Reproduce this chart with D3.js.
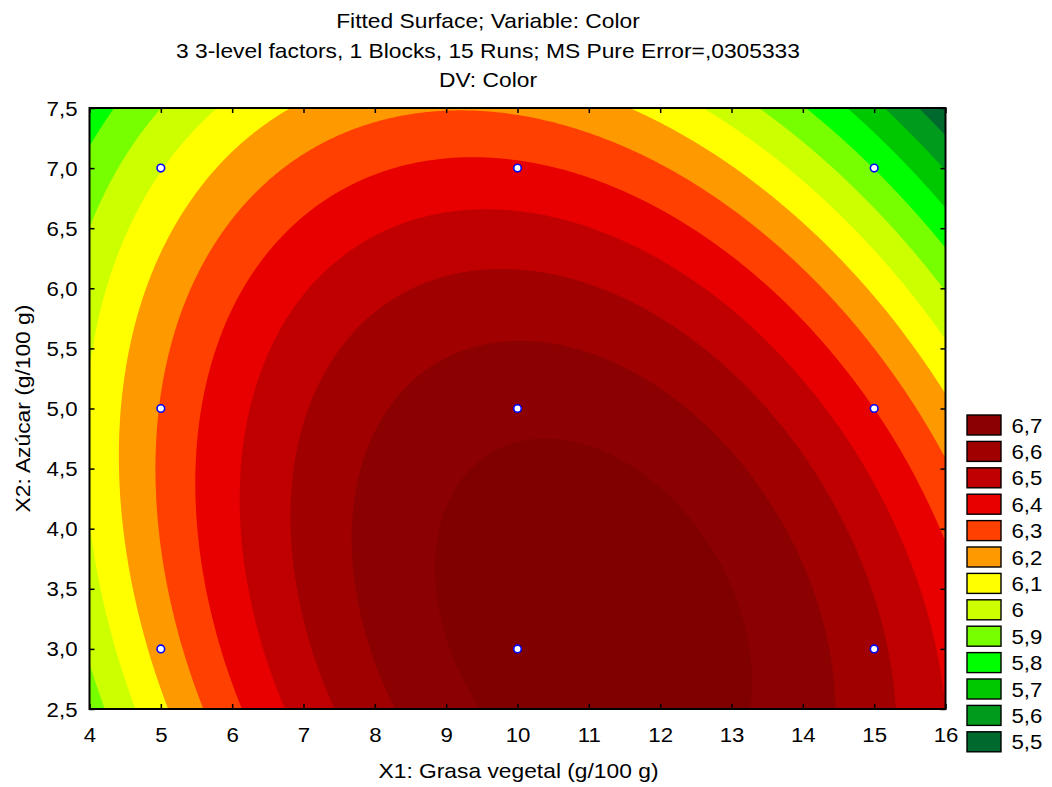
<!DOCTYPE html>
<html>
<head>
<meta charset="utf-8">
<script src="https://cdn.jsdelivr.net/npm/d3@7"></script>
<style>
  html, body { margin: 0; padding: 0; background: #fff; }
  svg text { font-family: "Liberation Sans", Arial, sans-serif; fill: #000; }
</style>
</head>
<body>
<svg id="chart" width="1052" height="787"></svg>
<script>
// ── Data ──────────────────────────────────────────────────────────────────────
const titleLines = [
  'Fitted Surface; Variable: Color',
  '3 3-level factors, 1 Blocks, 15 Runs; MS Pure Error=,0305333',
  'DV: Color'
];
const xLabel  = 'X1: Grasa vegetal (g/100 g)';
const yLabel  = 'X2: Azúcar (g/100 g)';
const xDomain = [4, 16];
const yDomain = [2.5, 7.5];
const xTicks  = [4, 5, 6, 7, 8, 9, 10, 11, 12, 13, 14, 15, 16];
const yTicks  = [2.5, 3, 3.5, 4, 4.5, 5, 5.5, 6, 6.5, 7, 7.5];

// fitted quadratic surface: Color = b0 + b1*X1 + b2*X2 + b11*X1² + b22*X2² + b12*X1*X2
const modelTerms = ['const', 'X1', 'X2', 'X1^2', 'X2^2', 'X1*X2'];
const modelCoefs = [3.8467, 0.41857, 0.38304, -0.0168, -0.03458, -0.014616];

// design points shown on the plane
const runsX1 = [5, 5, 5, 10, 10, 10, 15, 15, 15];
const runsX2 = [3, 5, 7, 3, 5, 7, 3, 5, 7];

// contour levels and band colours (band below 5.5 first, above 6.7 last)
const levels = [5.5, 5.6, 5.7, 5.8, 5.9, 6.0, 6.1, 6.2, 6.3, 6.4, 6.5, 6.6, 6.7];
const levelColors = ['#006a2e', '#009a1c', '#00c800', '#00ff00', '#77ff00', '#ccff00', '#ffff00',
                     '#ff9900', '#ff4000', '#e80000', '#c00000', '#a00000', '#8b0000', '#800000'];

// ── Layout ────────────────────────────────────────────────────────────────────
const M  = { left: 89.5, right: 945.5, top: 108, bottom: 709 };
const SX = 1.14;            // the source font is wide for its height
const GX = 428, GY = 300;   // sampling grid for the surface

const svg = d3.select('#chart');
const x = d3.scaleLinear().domain(xDomain).range([M.left, M.right]);
const y = d3.scaleLinear().domain(yDomain).range([M.bottom, M.top]);
const color = d3.scaleThreshold().domain(levels).range(levelColors);

const loc = d3.formatLocale({ decimal: ',', thousands: '.', grouping: [3], currency: ['', ''] });
const fmtTick  = loc.format('.1f');
const fmtLevel = loc.format('.1~f');

function fitted(x1, x2) {
  const t = [1, x1, x2, x1 * x1, x2 * x2, x1 * x2];
  return d3.sum(modelCoefs, (b, i) => b * t[i]);
}

function addText(g, str, tx, ty, size, anchor, rot) {
  return g.append('text')
    .attr('text-anchor', anchor || 'middle')
    .attr('font-size', size)
    .attr('transform', `translate(${tx},${ty})` + (rot ? ` rotate(${rot})` : '') + ` scale(${SX},1)`)
    .text(str);
}

// ── Surface ───────────────────────────────────────────────────────────────────
const cw = (M.right - M.left) / GX;
const ch = (M.bottom - M.top) / GY;
const values = new Float64Array(GX * GY);
for (let j = 0; j < GY; j++) {
  for (let i = 0; i < GX; i++) {
    values[j * GX + i] = fitted(x.invert(M.left + (i + 0.5) * cw), y.invert(M.top + (j + 0.5) * ch));
  }
}

const thresholds = [d3.min(values), ...levels];
const bands = d3.contours().size([GX, GY]).thresholds(thresholds)(values);
const gridPath = d3.geoPath(d3.geoTransform({
  point(px, py) { this.stream.point(M.left + px * cw, M.top + py * ch); }
}));

svg.append('g').attr('class', 'bands')
  .selectAll('path')
  .data(bands)
  .join('path')
  .attr('d', gridPath)
  .attr('fill', d => color(d.value));

// ── Axes ──────────────────────────────────────────────────────────────────────
function tidy(g) {
  g.attr('font-size', null).attr('font-family', null);
  g.select('.domain').remove();
  g.selectAll('.tick line').attr('stroke', '#000').attr('stroke-width', 1.5);
}

svg.append('g')
  .attr('transform', `translate(0,${M.bottom})`)
  .call(d3.axisBottom(x).tickValues(xTicks).tickSizeInner(-5).tickSizeOuter(0).tickFormat(d3.format('d')))
  .call(tidy)
  .call(g => g.selectAll('.tick text')
    .attr('y', 0).attr('dy', 0)
    .attr('font-size', 19.5)
    .attr('transform', `translate(0,33) scale(${SX},1)`));

svg.append('g')
  .attr('transform', `translate(${M.left},0)`)
  .call(d3.axisLeft(y).tickValues(yTicks).tickSizeInner(-5).tickSizeOuter(0).tickFormat(fmtTick))
  .call(tidy)
  .call(g => g.selectAll('.tick text')
    .attr('x', 0).attr('dy', 0)
    .attr('font-size', 19.5)
    .attr('transform', `translate(-12,7) scale(${SX},1)`));

svg.append('g')
  .attr('transform', `translate(0,${M.top})`)
  .call(d3.axisTop(x).tickValues(xTicks).tickSizeInner(-5).tickSizeOuter(0).tickFormat(''))
  .call(tidy);

svg.append('g')
  .attr('transform', `translate(${M.right},0)`)
  .call(d3.axisRight(y).tickValues(yTicks).tickSizeInner(-5).tickSizeOuter(0).tickFormat(''))
  .call(tidy);

svg.append('rect')
  .attr('x', M.left).attr('y', M.top)
  .attr('width', M.right - M.left).attr('height', M.bottom - M.top)
  .attr('fill', 'none').attr('stroke', '#000').attr('stroke-width', 2);

// ── Design points ─────────────────────────────────────────────────────────────
svg.append('g').selectAll('circle')
  .data(runsX1.map((v, i) => [v, runsX2[i]]))
  .join('circle')
  .attr('cx', d => x(d[0]))
  .attr('cy', d => y(d[1]))
  .attr('r', 3.8)
  .attr('fill', '#fff')
  .attr('stroke', '#0000ff')
  .attr('stroke-width', 1.6);

// ── Titles ────────────────────────────────────────────────────────────────────
const tg = svg.append('g');
titleLines.forEach((s, i) => addText(tg, s, 488, 28 + i * 29.5, 20));
addText(tg, xLabel, (M.left + M.right) / 2 + 1, 777.5, 20);
addText(tg, yLabel, 29.5, (M.top + M.bottom) / 2, 20, 'middle', -90);

// ── Legend ────────────────────────────────────────────────────────────────────
const legend = svg.append('g').attr('class', 'legend');
const legendItems = levels.map((lv, i) => ({ lv, fill: levelColors[i] })).reverse();
legendItems.forEach((d, k) => {
  const top = 415 + k * 26.4;
  legend.append('rect')
    .attr('x', 967).attr('y', top)
    .attr('width', 34).attr('height', 20)
    .attr('fill', d.fill)
    .attr('stroke', '#000').attr('stroke-width', 1.4);
  addText(legend, fmtLevel(d.lv), 1011.5, top + 17.5, 19.5, 'start');
});
</script>
</body>
</html>
